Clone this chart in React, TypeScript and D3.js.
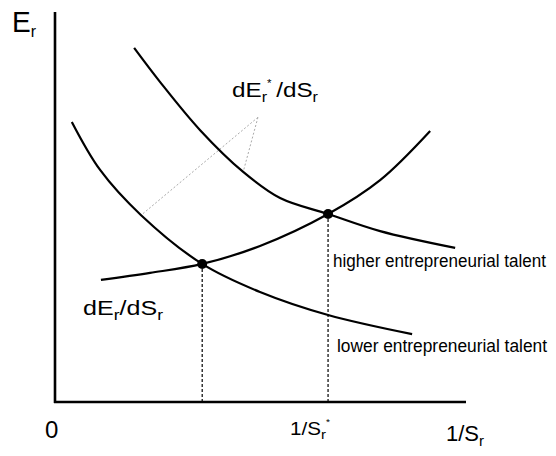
import React from 'react';
import * as d3 from 'd3';

// curve points (x: 1/S_r, y: E_r, arbitrary units 0..10)
const higherTalent: [number, number][] = [
  [1.93, 9.08], [2.56, 8.21], [3.54, 6.97], [4.59, 5.9], [5.49, 5.23],
  [6.66, 4.82], [7.93, 4.38], [9.76, 3.95],
];
const lowerTalent: [number, number][] = [
  [0.41, 7.18], [1.1, 5.95], [2.1, 4.79], [3.59, 3.54], [5.0, 2.82],
  [6.66, 2.23], [8.71, 1.74],
];
const marginalCurve: [number, number][] = [
  [1.12, 3.13], [2.32, 3.31], [3.59, 3.54], [5.0, 4.0], [6.66, 4.82],
  [7.93, 5.69], [9.15, 6.95],
];
const equilibria: [number, number][] = [
  [3.59, 3.54],
  [6.66, 4.82],
];
// pointer lines from label to upper curves
const pointerApex: [number, number] = [4.95, 7.3];
const pointerTargets: [number, number][] = [
  [2.1, 4.79],
  [4.59, 5.9],
];

const W = 556;
const H = 456;
const FONT = 'Liberation Sans, Arial, sans-serif';

export default function App() {
  const x = d3.scaleLinear().domain([0, 10]).range([55, 465]);
  const y = d3.scaleLinear().domain([0, 10]).range([402, 12]);

  const line = d3
    .line<[number, number]>()
    .x((d) => x(d[0]))
    .y((d) => y(d[1]))
    .curve(d3.curveCatmullRom.alpha(0.5));

  return (
    <svg width={W} height={H} style={{ position: 'absolute', left: 0, top: 0, background: '#fff' }}>
      {/* axes */}
      <line x1={x(0)} y1={y(10)} x2={x(0)} y2={y(0) + 1} stroke="#000" strokeWidth={2.6} />
      <line x1={x(0) - 1} y1={y(0)} x2={x(10) + 1} y2={y(0)} stroke="#000" strokeWidth={2.6} />

      {/* dashed drop lines */}
      {equilibria.map((d, i) => (
        <line
          key={'v' + i}
          x1={x(d[0])}
          y1={y(d[1])}
          x2={x(d[0])}
          y2={y(0)}
          stroke="#000"
          strokeWidth={1.2}
          strokeDasharray="3,2"
        />
      ))}

      {/* pointer lines */}
      {pointerTargets.map((d, i) => (
        <line
          key={'p' + i}
          x1={x(pointerApex[0])}
          y1={y(pointerApex[1])}
          x2={x(d[0])}
          y2={y(d[1])}
          stroke="#aaa"
          strokeWidth={1}
          strokeDasharray="2,2"
        />
      ))}

      {/* curves */}
      {[higherTalent, lowerTalent, marginalCurve].map((c, i) => (
        <path key={'c' + i} d={line(c) || ''} fill="none" stroke="#000" strokeWidth={2.2} />
      ))}

      {equilibria.map((d, i) => (
        <circle key={'e' + i} cx={x(d[0])} cy={y(d[1])} r={5} fill="#000" />
      ))}

      {/* labels */}
      <text x={12} y={32} fontFamily={FONT} fontSize={30} fill="#000" textLength={24} lengthAdjust="spacingAndGlyphs">
        E<tspan fontSize={17} dy={5}>r</tspan>
      </text>
      <text x={232} y={97} fontFamily={FONT} fontSize={21} fill="#000" textLength={86} lengthAdjust="spacingAndGlyphs">
        dE<tspan fontSize={14} dy={5}>r</tspan>
        <tspan fontSize={10} dy={-15}>*</tspan>
        <tspan dy={10} dx={4}>/dS</tspan>
        <tspan fontSize={14} dy={5}>r</tspan>
      </text>
      <text x={83} y={315} fontFamily={FONT} fontSize={20} fill="#000" textLength={80} lengthAdjust="spacingAndGlyphs">
        dE<tspan fontSize={14} dy={5}>r</tspan>
        <tspan dy={-5}>/dS</tspan>
        <tspan fontSize={14} dy={5}>r</tspan>
      </text>
      <text transform="translate(333,267) scale(1,1.12)" fontFamily={FONT} fontSize={16} fill="#000" textLength={213} lengthAdjust="spacingAndGlyphs">
        higher entrepreneurial talent
      </text>
      <text transform="translate(337,352) scale(1,1.12)" fontFamily={FONT} fontSize={16} fill="#000" textLength={210} lengthAdjust="spacingAndGlyphs">
        lower entrepreneurial talent
      </text>
      <text x={45} y={438} fontFamily={FONT} fontSize={24} fill="#000">0</text>
      <text x={290} y={435} fontFamily={FONT} fontSize={18} fill="#000" textLength={40} lengthAdjust="spacingAndGlyphs">
        1/S<tspan fontSize={13} dy={4}>r</tspan>
        <tspan fontSize={9} dy={-14}>*</tspan>
      </text>
      <text x={446} y={441} fontFamily={FONT} fontSize={22} fill="#000">
        1/S<tspan fontSize={15} dy={5}>r</tspan>
      </text>
    </svg>
  );
}
